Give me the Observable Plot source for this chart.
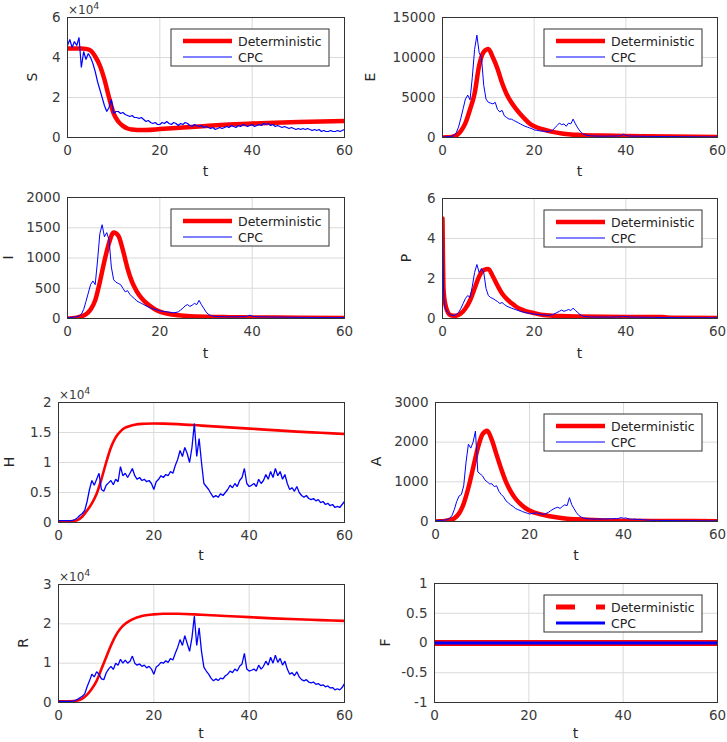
<!DOCTYPE html>
<html><head><meta charset="utf-8">
<script src="https://cdn.jsdelivr.net/npm/d3@7"></script>
<script src="https://cdn.jsdelivr.net/npm/@observablehq/plot@0.6"></script>
<style>
body{margin:0;background:#fff;}
#fig{position:relative;width:727px;height:742px;background:#fff;overflow:hidden;font-family:"DejaVu Sans",sans-serif;}
#fig svg{position:absolute;overflow:visible;}
</style></head><body><div id="fig"></div>
<script>
// ---------- data ----------
const tGrid = d3.range(0, 60.0001, 0.5); // CPC sample times (121)
const xTicks = [0, 20, 40, 60];

// S (x 10^4)
const sDetT = [0,1,2,3,4,5,6,7,8,9,10,11,12,13,14,15,17,20,25,30,35,40,45,50,55,60];
const sDet  = [4.45,4.45,4.45,4.45,4.43,4.35,4.05,3.6,2.9,2.0,1.2,0.8,0.58,0.45,0.4,0.38,0.38,0.42,0.5,0.58,0.65,0.7,0.74,0.77,0.8,0.82];
const sCpc = [
 4.6,4.9,4.5,4.8,4.6,5.0,3.5,4.3,3.9,4.2,
 4.0,3.7,3.3,2.8,2.4,2.0,1.6,1.3,1.5,1.9,
 1.2,1.3,1.3,1.2,1.25,1.15,1.1,1.05,1.1,1.0,
 1.0,0.95,1.0,0.9,0.8,0.85,0.75,0.7,0.75,0.65,
 0.65,0.75,0.7,0.8,0.7,0.65,0.75,0.7,0.6,0.7,
 0.65,0.75,0.7,0.6,0.55,0.65,0.6,0.55,0.6,0.5,
 0.55,0.5,0.45,0.5,0.4,0.45,0.5,0.45,0.5,0.55,
 0.5,0.6,0.55,0.5,0.6,0.55,0.65,0.6,0.55,0.6,
 0.65,0.55,0.6,0.65,0.6,0.7,0.65,0.7,0.6,0.65,
 0.55,0.6,0.55,0.5,0.55,0.5,0.45,0.5,0.45,0.4,
 0.45,0.4,0.45,0.4,0.45,0.4,0.35,0.4,0.35,0.4,
 0.3,0.35,0.3,0.3,0.35,0.3,0.3,0.35,0.3,0.35,
 0.4];

// E
const eDetT = [0,1,2,3,4,5,6,7,8,9,10,11,12,13,14,15,16,17,18,19,20,22,24,26,28,30,35,40,50,60];
const eDet  = [0,20,70,250,800,1800,3500,5500,9000,10700,11050,10000,8600,6800,5400,4400,3600,2900,2300,1750,1400,1000,700,500,380,320,240,200,120,60];
const eCpc = [
 50,80,100,120,150,250,600,1300,2400,3600,
 4800,5300,4700,7500,11000,12800,10600,10000,6500,4800,
 4400,4300,4200,4400,3500,3200,3400,2700,2500,2300,
 2300,2150,2000,1850,1700,1550,1400,1300,1200,1100,
 950,900,850,800,800,750,700,800,900,1200,
 1500,1800,1600,1700,1400,1800,1700,2300,1700,1200,
 800,500,350,280,230,200,190,180,170,170,
 160,170,160,170,180,170,200,180,250,400,
 250,200,180,170,160,170,150,160,150,140,
 140,130,140,130,120,130,120,110,120,110,
 110,100,110,100,100,90,100,90,90,80,
 90,80,80,90,80,80,70,80,70,70,
 70];

// I
const iDetT = [0,1,2,3,4,5,6,7,8,9,10,11,12,13,14,15,16,17,18,19,20,22,24,26,28,30,35,40,50,60];
const iDet  = [0,5,15,35,70,150,300,600,950,1250,1420,1370,1130,830,600,450,340,260,200,150,115,75,55,40,33,28,22,18,14,10];
const iCpc = [
 10,15,20,25,30,40,70,150,280,420,
 560,620,560,950,1400,1550,1350,1420,1300,850,
 640,600,580,560,500,440,460,400,360,330,
 290,270,250,230,210,190,175,160,150,140,
 125,120,115,110,105,100,95,100,110,140,
 170,210,230,200,220,250,230,300,230,170,
 110,70,50,40,35,32,30,30,28,28,
 27,28,27,28,30,28,32,30,40,55,
 38,32,30,28,27,28,26,27,25,24,
 24,23,24,22,21,22,21,20,21,20,
 19,18,19,18,18,17,18,17,16,16,
 16,15,15,16,15,14,14,15,14,14,
 14];

// P
const pDetT = [0,0.1,0.2,0.4,0.6,1,1.5,2,3,4,5,6,7,8,9,10,11,12,13,14,15,16,17,18,19,20,22,24,26,30,40,48,50,60];
const pDet  = [5,3.0,1.6,1.0,0.73,0.4,0.2,0.15,0.14,0.25,0.5,0.9,1.5,2.1,2.42,2.48,2.1,1.65,1.25,0.98,0.78,0.6,0.47,0.38,0.32,0.27,0.17,0.14,0.12,0.1,0.08,0.07,0.04,0.03];
const pCpcHeadT = [0.1, 0.2, 0.3];
const pCpcHead  = [3.2, 1.8, 1.0];
const pCpc = [
 4.6,0.6,0.35,0.22,0.16,0.15,0.2,0.3,0.5,0.75,
 1.0,1.15,1.05,1.6,2.3,2.7,2.3,2.5,2.3,1.5,
 1.15,1.05,1.0,0.92,0.85,0.75,0.8,0.7,0.62,0.57,
 0.52,0.48,0.44,0.4,0.36,0.33,0.3,0.28,0.26,0.24,
 0.22,0.21,0.2,0.19,0.18,0.17,0.16,0.17,0.19,0.24,
 0.3,0.36,0.42,0.36,0.4,0.45,0.4,0.52,0.4,0.3,
 0.2,0.13,0.1,0.09,0.08,0.08,0.075,0.075,0.07,0.07,
 0.07,0.07,0.07,0.07,0.075,0.07,0.08,0.075,0.09,0.11,
 0.09,0.08,0.075,0.07,0.07,0.07,0.065,0.065,0.06,0.06,
 0.06,0.06,0.055,0.055,0.055,0.05,0.05,0.05,0.05,0.05,
 0.048,0.046,0.046,0.045,0.044,0.043,0.042,0.042,0.041,0.04,
 0.04,0.04,0.039,0.038,0.038,0.037,0.036,0.036,0.035,0.035,
 0.035];

// H (x 10^4)
const hDetT = [0,2,3,4,5,6,7,8,9,10,11,12,13,14,15,16,18,20,22,25,30,35,40,45,50,55,60];
const hDet  = [0.02,0.02,0.025,0.04,0.1,0.2,0.32,0.48,0.72,1.0,1.25,1.42,1.52,1.58,1.61,1.63,1.645,1.65,1.648,1.64,1.615,1.59,1.565,1.54,1.515,1.495,1.475];
const hCpc = [
 0.03,0.03,0.03,0.03,0.03,0.03,0.035,0.05,0.08,0.12,
 0.15,0.2,0.35,0.55,0.7,0.62,0.72,0.82,0.55,0.52,
 0.62,0.66,0.7,0.63,0.72,0.68,0.93,0.78,0.82,0.75,
 0.82,0.9,0.78,0.72,0.75,0.7,0.72,0.68,0.7,0.65,
 0.55,0.68,0.72,0.78,0.75,0.8,0.78,0.85,0.82,0.95,
 1.05,1.2,1.1,1.25,1.15,1.0,1.25,1.65,1.1,1.4,
 1.0,0.65,0.6,0.55,0.48,0.42,0.45,0.42,0.48,0.45,
 0.5,0.55,0.62,0.58,0.65,0.6,0.7,0.75,0.9,0.65,
 0.6,0.62,0.65,0.6,0.72,0.65,0.7,0.8,0.72,0.85,
 0.75,0.9,0.78,0.85,0.72,0.8,0.65,0.55,0.58,0.52,
 0.6,0.5,0.45,0.42,0.45,0.4,0.38,0.4,0.36,0.38,
 0.33,0.35,0.3,0.32,0.28,0.3,0.25,0.27,0.25,0.3,
 0.35];

// A
const aDetT = [0,1,2,3,4,5,6,7,8,9,10,11,12,13,14,15,16,17,18,19,20,22,24,26,28,30,35,40,50,60];
const aDet  = [0,5,15,40,80,200,450,850,1350,1850,2200,2290,2050,1680,1320,1000,760,580,450,350,280,190,140,100,70,55,30,20,12,8];
const aCpc = [
 20,25,30,30,35,50,80,150,300,500,
 640,680,900,1500,1950,1850,2000,2280,1250,1200,
 1150,1050,1000,950,950,880,900,760,680,620,
 520,470,420,380,330,300,280,250,230,210,
 190,200,210,220,200,190,180,200,230,270,
 310,340,360,330,380,420,400,600,420,320,
 220,150,110,90,75,70,65,60,60,65,
 60,65,60,65,70,65,75,70,80,100,
 80,90,70,60,55,60,50,55,45,40,
 35,35,30,30,28,28,26,26,25,25,
 24,24,23,23,22,22,21,21,20,20,
 20,19,19,18,18,18,17,17,17,16,
 16];

// R (x 10^4)
const rDetT = [0,2,3,4,5,6,7,8,9,10,11,12,13,14,15,16,17,18,20,22,25,30,35,40,45,50,55,60];
const rDet  = [0.03,0.03,0.035,0.05,0.1,0.2,0.35,0.55,0.85,1.15,1.45,1.7,1.88,2.0,2.08,2.14,2.18,2.21,2.24,2.255,2.255,2.23,2.2,2.17,2.14,2.115,2.095,2.075];
const rCpc = [
 0.03,0.03,0.03,0.03,0.03,0.03,0.035,0.05,0.08,0.12,
 0.16,0.22,0.4,0.55,0.72,0.65,0.78,0.72,0.6,0.58,
 0.75,0.85,0.92,0.84,1.0,0.95,1.1,1.0,1.08,1.0,
 1.05,1.18,1.0,0.95,0.98,0.92,0.95,0.88,0.92,0.85,
 0.72,0.9,0.95,1.02,1.0,1.06,1.02,1.12,1.08,1.25,
 1.4,1.6,1.45,1.7,1.5,1.3,1.65,2.2,1.45,1.9,
 1.3,0.9,0.8,0.72,0.62,0.55,0.6,0.56,0.62,0.6,
 0.68,0.72,0.8,0.76,0.85,0.8,0.92,0.98,1.25,0.85,
 0.8,0.82,0.85,0.8,0.95,0.85,0.92,1.05,0.95,1.15,
 1.0,1.2,1.02,1.12,0.95,1.05,0.85,0.72,0.76,0.68,
 0.78,0.65,0.58,0.55,0.58,0.52,0.5,0.52,0.46,0.48,
 0.43,0.45,0.4,0.42,0.37,0.38,0.32,0.35,0.32,0.38,
 0.48];

// F
const fDetT = [0, 60];
const fDet  = [0, 0];
const fCpcT = [0, 60];
const fCpc  = [0, 0];

const legendLabels = ["Deterministic", "CPC"];

// ---------- helpers ----------
const series = (t, v) => t.map((x, i) => ({t: x, v: v[i]}));
const pCpcAll = series(tGrid, pCpc).concat(series(pCpcHeadT, pCpcHead)).sort((a, b) => a.t - b.t);

const panels = [
  {name:"S", left:67, top:17, right:344, bottom:137, domain:[0,6], ticks:[0,2,4,6], det:series(sDetT,sDet), cpc:series(tGrid,sCpc), detW:4.5, cpcW:1.2, legend:"thin", exp:true, labelX:32, tOff:34},
  {name:"E", left:442, top:17, right:717, bottom:137, domain:[0,15000], ticks:[0,5000,10000,15000], det:series(eDetT,eDet), cpc:series(tGrid,eCpc), detW:4.5, legend:"thin", labelX:370, tOff:34},
  {name:"I", left:67, top:197, right:344, bottom:318, domain:[0,2000], ticks:[0,500,1000,1500,2000], det:series(iDetT,iDet), cpc:series(tGrid,iCpc), detW:4.5, legend:"thin", labelX:8, tOff:35},
  {name:"P", left:442, top:198, right:717, bottom:318, domain:[0,6], ticks:[0,2,4,6], det:series(pDetT,pDet), cpc:pCpcAll, detW:4.5, legend:"thin", labelX:406, tOff:35},
  {name:"H", left:58, top:402, right:344, bottom:522, domain:[0,2], ticks:[0,0.5,1,1.5,2], det:series(hDetT,hDet), cpc:series(tGrid,hCpc), detW:2.6, cpcW:1.3, legend:null, exp:true, labelX:9, tOff:33},
  {name:"A", left:435, top:402, right:717, bottom:521, domain:[0,3000], ticks:[0,1000,2000,3000], det:series(aDetT,aDet), cpc:series(tGrid,aCpc), detW:4.5, legend:"thin", labelX:376, tOff:34},
  {name:"R", left:58, top:584, right:344, bottom:702, domain:[0,3], ticks:[0,1,2,3], det:series(rDetT,rDet), cpc:series(tGrid,rCpc), detW:2.6, cpcW:1.3, legend:null, exp:true, labelX:23, tOff:31},
  {name:"F", left:434, top:583, right:717, bottom:702, domain:[-1,1], ticks:[-1,-0.5,0,0.5,1], det:series(fDetT,fDet), cpc:series(fCpcT,fCpc), detW:6, cpcW:3, legend:"thick", labelX:385, tOff:31},
];

const fig = document.getElementById("fig");
const mL = 80, mR = 20, mT = 25, mB = 45;
const textCol = "#3a3a3a";

for (const p of panels) {
  const pw = p.right - p.left, ph = p.bottom - p.top;
  const svg = Plot.plot({
    width: pw + mL + mR, height: ph + mT + mB,
    marginLeft: mL, marginRight: mR, marginTop: mT, marginBottom: mB,
    style: {background: "transparent", fontFamily: "DejaVu Sans, sans-serif", fontSize: "13.5px", color: textCol, overflow: "visible"},
    x: {domain: [0, 60]},
    y: {domain: p.domain},
    marks: [
      Plot.gridX(xTicks, {stroke: "#dadada", strokeOpacity: 1}),
      Plot.gridY(p.ticks, {stroke: "#dadada", strokeOpacity: 1}),
      Plot.axisX(xTicks, {tickSize: 0, tickPadding: 8, tickFormat: d => String(d), label: null}),
      Plot.axisY(p.ticks, {tickSize: 0, tickPadding: 7, tickFormat: d => String(d), label: null}),
      Plot.lineY(p.det, {x: "t", y: "v", stroke: "#ff0000", strokeWidth: p.detW, curve: "monotone-x", clip: true}),
      Plot.lineY(p.cpc, {x: "t", y: "v", stroke: "#0000ff", strokeWidth: p.cpcW || 1, strokeLinejoin: "miter", clip: true}),
      Plot.frame({stroke: "#333", strokeWidth: 1})
    ]
  });
  svg.style.left = (p.left - mL) + "px";
  svg.style.top = (p.top - mT) + "px";
  const g = d3.select(svg).append("g").attr("font-family", "DejaVu Sans, sans-serif");

  // axis labels
  g.append("text").attr("x", mL + pw / 2).attr("y", mT + ph + p.tOff).attr("dy", "0.35em")
    .attr("text-anchor", "middle").attr("font-size", 14).attr("fill", "#262626").text("t");
  const ly = mT + ph / 2, lx = p.labelX - (p.left - mL);
  g.append("text").attr("transform", `translate(${lx},${ly}) rotate(-90)`).attr("dy", "0.35em")
    .attr("text-anchor", "middle").attr("font-size", 14).attr("fill", "#262626").text(p.name);

  if (p.exp) {
    const t = g.append("text").attr("x", mL + 1).attr("y", mT - 3).attr("text-anchor", "start")
      .attr("font-size", 12).attr("fill", textCol);
    t.append("tspan").text("×10");
    t.append("tspan").attr("dy", -5).attr("font-size", 9.5).text("4");
  }

  if (p.legend) {
    const bw = 158, bh = 37;
    const bx = mL + pw - 15 - bw, by = mT + 12;
    g.append("rect").attr("x", bx).attr("y", by).attr("width", bw).attr("height", bh)
      .attr("fill", "#fff").attr("stroke", "#333").attr("stroke-width", 1);
    const rows = [by + 12, by + 28];
    const red = g.append("line").attr("x1", bx + 12).attr("x2", bx + 61).attr("y1", rows[0]).attr("y2", rows[0])
      .attr("stroke", "#ff0000");
    const blue = g.append("line").attr("x1", bx + 12).attr("x2", bx + 61).attr("y1", rows[1]).attr("y2", rows[1])
      .attr("stroke", "#0000ff");
    if (p.legend === "thin") {
      red.attr("stroke-width", 4.5);
      blue.attr("stroke-width", 1);
    } else {
      red.attr("stroke-width", 5).attr("stroke-dasharray", "19,21");
      blue.attr("stroke-width", 3);
    }
    legendLabels.forEach((s, i) => {
      g.append("text").attr("x", bx + 67).attr("y", rows[i]).attr("dy", "0.36em")
        .attr("text-anchor", "start").attr("font-size", 12.5).attr("fill", "#222").text(s);
    });
  }
  fig.appendChild(svg);
}
</script></body></html>
